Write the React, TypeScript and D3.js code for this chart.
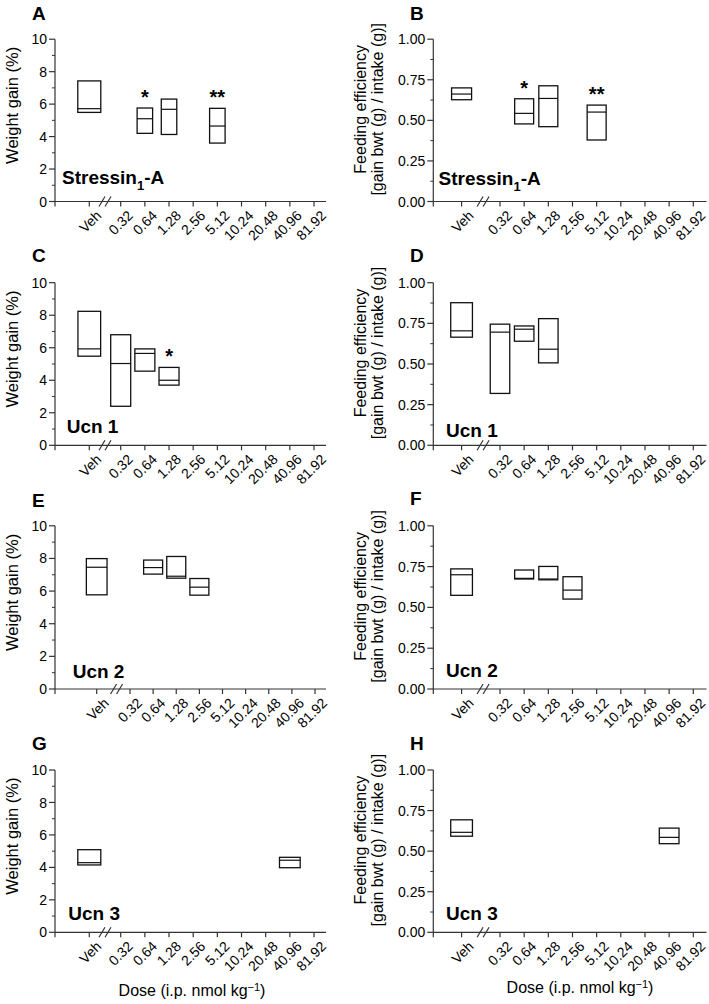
import React from "react";
import * as d3 from "d3";

// ---------- data ----------
const DOSES = ["0.32", "0.64", "1.28", "2.56", "5.12", "10.24", "20.48", "40.96", "81.92"];
const X_LABELS = ["Veh", ...DOSES];

const WEIGHT_TICKS = [0, 2, 4, 6, 8, 10];
const WEIGHT_MINOR = [1, 3, 5, 7, 9];
const EFF_TICKS = [0, 0.25, 0.5, 0.75, 1.0];
const EFF_MINOR = [0.125, 0.375, 0.625, 0.875];

type Box = { dose: string; low: number; med: number; high: number; sig?: string };

const stressinWeight: Box[] = [
  { dose: "Veh", low: 5.49, med: 5.72, high: 7.43 },
  { dose: "0.64", low: 4.2, med: 5.1, high: 5.76, sig: "*" },
  { dose: "1.28", low: 4.13, med: 5.68, high: 6.31 },
  { dose: "5.12", low: 3.6, med: 4.65, high: 5.74, sig: "**" },
];
const stressinEff: Box[] = [
  { dose: "Veh", low: 0.627, med: 0.662, high: 0.70 },
  { dose: "0.64", low: 0.478, med: 0.543, high: 0.633, sig: "*" },
  { dose: "1.28", low: 0.461, med: 0.635, high: 0.713 },
  { dose: "5.12", low: 0.379, med: 0.551, high: 0.594, sig: "**" },
];
const ucn1Weight: Box[] = [
  { dose: "Veh", low: 5.48, med: 5.93, high: 8.24 },
  { dose: "0.32", low: 2.4, med: 5.03, high: 6.8 },
  { dose: "0.64", low: 4.56, med: 5.65, high: 5.93 },
  { dose: "1.28", low: 3.7, med: 4.0, high: 4.79, sig: "*" },
];
const ucn1Eff: Box[] = [
  { dose: "Veh", low: 0.665, med: 0.704, high: 0.877 },
  { dose: "0.32", low: 0.319, med: 0.696, high: 0.745 },
  { dose: "0.64", low: 0.64, med: 0.714, high: 0.734 },
  { dose: "1.28", low: 0.507, med: 0.591, high: 0.779 },
];
const ucn2Weight: Box[] = [
  { dose: "Veh", low: 5.77, med: 7.46, high: 7.99 },
  { dose: "0.64", low: 7.04, med: 7.44, high: 7.9 },
  { dose: "1.28", low: 6.79, med: 6.91, high: 8.12 },
  { dose: "2.56", low: 5.75, med: 6.24, high: 6.77 },
];
const ucn2Eff: Box[] = [
  { dose: "Veh", low: 0.574, med: 0.70, high: 0.736 },
  { dose: "0.64", low: 0.674, med: 0.678, high: 0.729 },
  { dose: "1.28", low: 0.669, med: 0.674, high: 0.751 },
  { dose: "2.56", low: 0.551, med: 0.606, high: 0.688 },
];
const ucn3Weight: Box[] = [
  { dose: "Veh", low: 4.15, med: 4.29, high: 5.09 },
  { dose: "40.96", low: 3.98, med: 4.44, high: 4.62 },
];
const ucn3Eff: Box[] = [
  { dose: "Veh", low: 0.592, med: 0.616, high: 0.693 },
  { dose: "40.96", low: 0.546, med: 0.585, high: 0.642 },
];

// ---------- layout / style ----------
const FONT = "'Liberation Sans', Arial, Helvetica, sans-serif";
const ROWS = [
  { top: 39.2, bottom: 201.5 },
  { top: 282.7, bottom: 445.3 },
  { top: 525.8, bottom: 689 },
  { top: 770, bottom: 932.3 },
];
const LEFT = { axisX: 55, axisEnd: 326, firstX: 120.7, lastX: 314 };
const RIGHT = { axisX: 433.3, axisEnd: 706.5, firstX: 500, lastX: 693.3 };

type PanelCfg = {
  letter: string;
  data: Box[];
  kind: "weight" | "eff";
  name: string;
  row: number;
  side: "L" | "R";
  vehIdx: number;
  breakIdx: number;
  vehW: number;
  boxW: number;
  nameX: number;
  nameY: number;
  letterY: number;
  firstX?: number;
  lastX?: number;
  xTitle?: boolean;
};

const PANELS: PanelCfg[] = [
  { letter: "A", data: stressinWeight, kind: "weight", name: "Stressin1-A", row: 0, side: "L", vehIdx: -1.3, breakIdx: -0.65, vehW: 23, boxW: 15.5, nameX: 62, nameY: 183.5, letterY: 20 },
  { letter: "B", data: stressinEff, kind: "eff", name: "Stressin1-A", row: 0, side: "R", vehIdx: -1.59, breakIdx: -0.7, vehW: 20, boxW: 19, nameX: 438.5, nameY: 184.5, letterY: 20 },
  { letter: "C", data: ucn1Weight, kind: "weight", name: "Ucn 1", row: 1, side: "L", vehIdx: -1.3, breakIdx: -0.65, vehW: 22.7, boxW: 20, nameX: 66.7, nameY: 433.3, letterY: 262 },
  { letter: "D", data: ucn1Eff, kind: "eff", name: "Ucn 1", row: 1, side: "R", vehIdx: -1.59, breakIdx: -0.7, vehW: 21.7, boxW: 19.5, nameX: 446, nameY: 436.7, letterY: 262 },
  { letter: "E", data: ucn2Weight, kind: "weight", name: "Ucn 2", row: 2, side: "L", vehIdx: -1.44, breakIdx: -0.58, vehW: 20.7, boxW: 19, nameX: 72.7, nameY: 678.3, letterY: 507, firstX: 130, lastX: 315 },
  { letter: "F", data: ucn2Eff, kind: "eff", name: "Ucn 2", row: 2, side: "R", vehIdx: -1.59, breakIdx: -0.7, vehW: 21.7, boxW: 19, nameX: 446, nameY: 676.7, letterY: 505 },
  { letter: "G", data: ucn3Weight, kind: "weight", name: "Ucn 3", row: 3, side: "L", vehIdx: -1.3, breakIdx: -0.65, vehW: 23, boxW: 20.7, nameX: 68.3, nameY: 920, letterY: 750, xTitle: true },
  { letter: "H", data: ucn3Eff, kind: "eff", name: "Ucn 3", row: 3, side: "R", vehIdx: -1.59, breakIdx: -0.7, vehW: 21.7, boxW: 19.7, nameX: 446, nameY: 920, letterY: 750, xTitle: true },
];

const AXIS_COLOR = "#333";
const BOX_COLOR = "#111";

function Panel({ cfg }: { cfg: PanelCfg }) {
  const side = cfg.side === "L" ? LEFT : RIGHT;
  const { top, bottom } = ROWS[cfg.row];
  const firstX = cfg.firstX ?? side.firstX;
  const lastX = cfg.lastX ?? side.lastX;
  const x = d3.scaleLinear().domain([0, DOSES.length - 1]).range([firstX, lastX]);
  const pos = (d: string) => (d === "Veh" ? x(cfg.vehIdx) : x(DOSES.indexOf(d)));
  const isW = cfg.kind === "weight";
  const y = d3.scaleLinear().domain(isW ? [0, 10] : [0, 1]).range([bottom, top]);
  const ticks = isW ? WEIGHT_TICKS : EFF_TICKS;
  const minor = isW ? WEIGHT_MINOR : EFF_MINOR;
  const fmt = isW ? d3.format("d") : d3.format(".2f");
  const ax = side.axisX;
  const bx = x(cfg.breakIdx);
  const midY = (top + bottom) / 2;
  const letterX = cfg.side === "L" ? 32 : 410;

  return (
    <g fontFamily={FONT}>
      <text x={letterX} y={cfg.letterY} fontSize={19} fontWeight="bold" fill="#000">
        {cfg.letter}
      </text>
      <line x1={ax} x2={ax} y1={top} y2={bottom} stroke={AXIS_COLOR} strokeWidth={1.2} />
      {ticks.map((t) => (
        <g key={"t" + t}>
          <line x1={ax - 6} x2={ax} y1={y(t)} y2={y(t)} stroke={AXIS_COLOR} strokeWidth={1.2} />
          <text x={ax - 8} y={y(t)} dy="0.36em" textAnchor="end" fontSize={14} fill="#000">
            {fmt(t)}
          </text>
        </g>
      ))}
      {minor.map((t) => (
        <line key={"m" + t} x1={ax - 3} x2={ax} y1={y(t)} y2={y(t)} stroke={AXIS_COLOR} strokeWidth={1} />
      ))}
      <line x1={ax} x2={side.axisEnd} y1={bottom} y2={bottom} stroke={AXIS_COLOR} strokeWidth={1.2} />
      <line x1={ax} x2={ax} y1={bottom} y2={bottom + 5} stroke={AXIS_COLOR} strokeWidth={1.2} />
      {X_LABELS.map((lab) => {
        const px = pos(lab);
        return (
          <g key={"x" + lab}>
            <line x1={px} x2={px} y1={bottom} y2={bottom + 5} stroke={AXIS_COLOR} strokeWidth={1.2} />
            <text
              transform={`translate(${px + 6},${bottom + 8}) rotate(-45)`}
              dy="0.71em"
              textAnchor="end"
              fontSize={14}
              fill="#000"
            >
              {lab}
            </text>
          </g>
        );
      })}
      {[-3, 3].map((o) => (
        <line
          key={"b" + o}
          x1={bx + o - 3}
          y1={bottom + 5}
          x2={bx + o + 3}
          y2={bottom - 5}
          stroke={AXIS_COLOR}
          strokeWidth={1.2}
        />
      ))}
      {cfg.data.map((b) => {
        const cx = pos(b.dose);
        const w = b.dose === "Veh" ? cfg.vehW : cfg.boxW;
        return (
          <g key={"box" + b.dose}>
            <rect
              x={cx - w / 2}
              y={y(b.high)}
              width={w}
              height={y(b.low) - y(b.high)}
              fill="none"
              stroke={BOX_COLOR}
              strokeWidth={1.3}
            />
            <line x1={cx - w / 2} x2={cx + w / 2} y1={y(b.med)} y2={y(b.med)} stroke={BOX_COLOR} strokeWidth={1.2} />
            {b.sig && (
              <text x={cx} y={y(b.high) - 4} textAnchor="middle" fontSize={20} fontWeight="bold" fill="#000">
                {b.sig}
              </text>
            )}
          </g>
        );
      })}
      <text x={cfg.nameX} y={cfg.nameY} fontSize={19} fontWeight="bold" fill="#000">
        {cfg.name.startsWith("Stressin") ? (
          <>
            Stressin
            <tspan fontSize={13} dy={6}>
              1
            </tspan>
            <tspan dy={-6}>-A</tspan>
          </>
        ) : (
          cfg.name
        )}
      </text>
      {isW ? (
        <text transform={`translate(17.5,${midY - 15}) rotate(-90)`} textAnchor="middle" fontSize={16.5} fill="#000">
          Weight gain (%)
        </text>
      ) : (
        <g transform={`translate(0,${midY - 11})`}>
          <text transform="translate(365.5,0) rotate(-90)" textAnchor="middle" fontSize={16} fill="#000">
            Feeding efficiency
          </text>
          <text transform="translate(383.3,0) rotate(-90)" textAnchor="middle" fontSize={16} fill="#000">
            [gain bwt (g) / intake (g)]
          </text>
        </g>
      )}
      {cfg.xTitle && (
        <text
          x={cfg.side === "L" ? 192 : 580}
          y={cfg.side === "L" ? 995.5 : 992.5}
          textAnchor="middle"
          fontSize={16}
          fill="#000"
        >
          Dose (i.p. nmol kg
          <tspan fontSize={11} dy={-5}>
            −1
          </tspan>
          <tspan dy={5}>)</tspan>
        </text>
      )}
    </g>
  );
}

export default function App() {
  return (
    <svg
      width={709}
      height={1004}
      viewBox="0 0 709 1004"
      style={{ position: "absolute", left: 0, top: 0, background: "#fff" }}
    >
      <rect width={709} height={1004} fill="#fff" />
      {PANELS.map((p) => (
        <Panel key={p.letter} cfg={p} />
      ))}
    </svg>
  );
}
